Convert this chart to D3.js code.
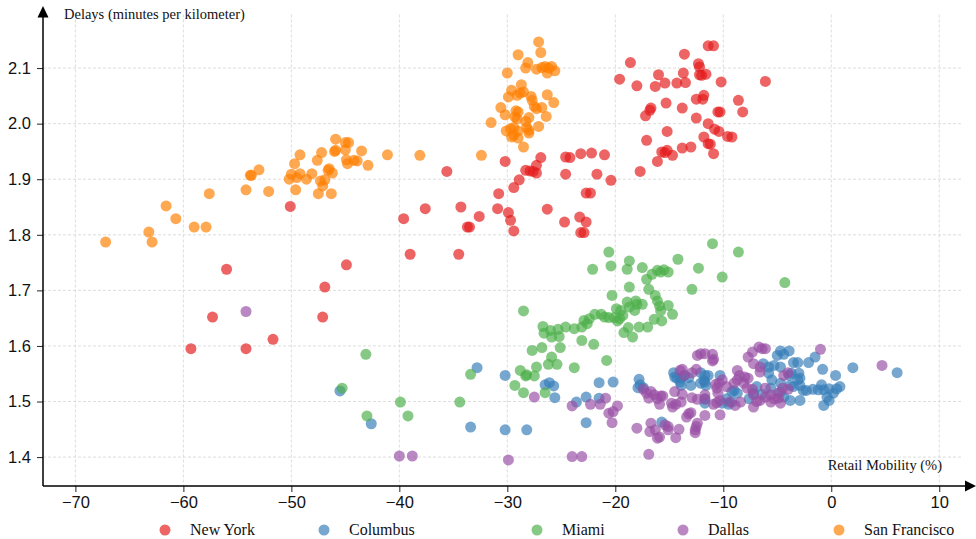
<!DOCTYPE html>
<html>
<head>
<meta charset="utf-8">
<script src="https://cdn.jsdelivr.net/npm/d3@7"></script>
<style>
  body { margin: 0; background: white; }
  svg { display: block; font-family: "Liberation Serif", "DejaVu Serif", serif; }
  .grid line { stroke: #d4d4d4; stroke-width: 0.8; stroke-dasharray: 3,2; }
  .tick text { font-size: 16.5px; fill: #111; }
</style>
</head>
<body>
<div id="chart_div"></div>
<script>
//city names (legend order = draw order)
var cities = ["New York", "Columbus", "Miami", "Dallas", "San Francisco"];

//[retail mobility %, delay minutes per km]
var newYork = [
  [-11.4,2.140],[-10.9,2.140],[-13.6,2.125],[-18.6,2.110],[-12.3,2.108],[-12.2,2.102],[-19.6,2.080],[-16.0,2.088],
  [-13.7,2.091],[-12.2,2.088],[-12.0,2.087],[-11.6,2.089],[-18.0,2.068],[-16.3,2.067],[-15.4,2.073],[-14.3,2.073],
  [-13.5,2.074],[-10.2,2.075],[-6.1,2.076],[-12.5,2.044],[-11.9,2.044],[-11.8,2.051],[-8.6,2.042],[-8.2,2.021],
  [-15.3,2.037],[-13.8,2.028],[-16.7,2.028],[-16.8,2.024],[-17.2,2.014],[-12.5,2.010],[-10.5,2.021],[-10.3,2.021],
  [-11.4,2.000],[-10.8,1.990],[-10.4,1.986],[-15.2,1.986],[-9.6,1.977],[-9.2,1.976],[-11.8,1.976],[-17.1,1.970],
  [-11.4,1.964],[-11.2,1.963],[-13.8,1.956],[-13.0,1.958],[-15.7,1.949],[-15.2,1.952],[-15.4,1.948],[-14.7,1.943],
  [-16.1,1.932],[-10.9,1.946],[-17.7,1.914],[-21.0,1.944],[-20.4,1.898],
  [-30.2,1.932],[-26.9,1.939],[-27.3,1.925],[-28.3,1.916],[-27.9,1.915],[-27.3,1.911],[-27.6,1.914],[-28.9,1.899],
  [-29.4,1.885],[-30.8,1.874],[-30.9,1.847],[-29.9,1.840],[-29.7,1.826],[-29.4,1.807],[-35.6,1.914],[-34.3,1.850],
  [-32.6,1.833],[-33.7,1.814],[-33.5,1.814],[-37.6,1.847],[-39.6,1.829],[-24.6,1.940],[-24.2,1.939],[-23.2,1.946],
  [-22.2,1.947],[-24.6,1.909],[-21.7,1.909],[-22.7,1.875],[-22.3,1.875],[-26.3,1.846],[-24.7,1.823],[-23.3,1.832],
  [-22.7,1.823],[-23.2,1.804],[-22.9,1.804],
  [-50.1,1.851],[-39.0,1.765],[-34.5,1.765],[-56.0,1.738],[-44.9,1.746],[-46.9,1.706],[-57.3,1.652],[-47.1,1.652],
  [-51.7,1.612],[-59.3,1.595],[-54.2,1.595]
];

var columbus = [
  [-45.5,1.519],[-42.6,1.460],[-32.8,1.561],[-30.2,1.547],[-33.4,1.454],[-30.2,1.449],[-28.2,1.449],[-26.5,1.530],
  [-26.1,1.534],[-25.7,1.528],[-25.6,1.507],[-23.6,1.499],[-22.7,1.508],[-21.5,1.506],[-21.5,1.534],[-22.7,1.462],
  [-20.2,1.535],[-17.8,1.540],[-17.7,1.530],[-17.9,1.525],[-17.4,1.525],[-15.7,1.463],[-14.6,1.552],[-14.3,1.542],
  [-14.0,1.535],[-14.5,1.544],[-13.6,1.547],[-13.0,1.529],[-13.2,1.543],[-12.1,1.552],[-11.7,1.547],[-11.7,1.535],
  [-11.6,1.529],[-11.4,1.547],[-11.7,1.497],[-11.7,1.505],[-10.3,1.547],[-9.7,1.505],[-9.5,1.495],[-9.2,1.499],
  [-9.2,1.518],[-8.7,1.515],[-7.6,1.505],[-7.2,1.515],[-6.9,1.527],[-6.3,1.568],[-5.8,1.562],[-5.3,1.565],
  [-5.0,1.583],[-4.7,1.591],[-4.4,1.585],[-3.9,1.591],[-3.5,1.570],[-3.1,1.570],[-5.5,1.539],[-4.7,1.533],
  [-3.9,1.547],[-3.8,1.529],[-3.5,1.527],[-3.1,1.539],[-2.9,1.529],[-2.9,1.502],[-2.3,1.520],[-1.7,1.522],
  [-1.2,1.521],[-0.7,1.521],[-0.2,1.523],[0.2,1.515],[0.5,1.523],[0.8,1.527],[0.4,1.547],[-2.1,1.570],
  [-1.5,1.580],[-0.8,1.558],[-0.4,1.508],[-0.7,1.493],[-0.2,1.502],[2.0,1.561],[6.1,1.552],[-6.4,1.513],
  [-3.8,1.502],[-5.8,1.551],[-4.7,1.562],[-3.7,1.551],[-3.0,1.551],[-2.9,1.542],[-2.6,1.520],[-0.9,1.530],
  [-4.4,1.508],[-4.7,1.517],[-5.6,1.524],[-9.0,1.520],[-10.1,1.497],[-11.8,1.538],[-12.1,1.533],[-13.9,1.542],
  [-13.9,1.529]
];

var miami = [
  [-11.0,1.784],[-8.6,1.769],[-20.6,1.769],[-20.4,1.744],[-22.1,1.738],[-18.7,1.753],[-18.9,1.738],[-17.5,1.741],
  [-14.2,1.756],[-12.3,1.740],[-10.1,1.724],[-4.3,1.714],[-16.1,1.736],[-15.8,1.733],[-15.5,1.737],[-15.1,1.733],
  [-16.6,1.729],[-17.1,1.720],[-12.9,1.702],[-18.7,1.706],[-16.9,1.702],[-20.3,1.691],[-16.3,1.691],[-16.1,1.681],
  [-15.9,1.672],[-15.8,1.663],[-15.1,1.673],[-14.7,1.657],[-16.4,1.648],[-15.7,1.645],[-17.0,1.634],[-18.9,1.679],
  [-18.1,1.681],[-18.0,1.675],[-17.5,1.675],[-18.2,1.664],[-18.7,1.670],[-19.9,1.667],[-19.5,1.664],[-19.3,1.655],
  [-19.6,1.649],[-19.8,1.645],[-20.1,1.651],[-17.8,1.634],[-18.8,1.633],[-19.2,1.624],[-18.4,1.616],[-20.6,1.651],
  [-21.0,1.652],[-21.3,1.657],[-21.9,1.657],[-22.4,1.649],[-22.9,1.646],[-22.6,1.640],[-23.1,1.634],[-23.8,1.631],
  [-24.6,1.634],[-25.3,1.630],[-25.2,1.617],[-25.9,1.616],[-26.0,1.628],[-26.7,1.635],[-26.6,1.623],[-23.1,1.610],
  [-22.0,1.603],[-20.8,1.574],[-28.5,1.663],[-25.1,1.597],[-26.8,1.597],[-27.7,1.592],[-25.9,1.580],[-25.4,1.567],
  [-26.2,1.567],[-27.3,1.562],[-28.8,1.556],[-23.8,1.561],[-28.3,1.546],[-28.2,1.548],[-27.5,1.546],[-33.4,1.549],
  [-29.3,1.529],[-28.5,1.516],[-26.5,1.516],[-43.1,1.585],[-45.3,1.524],[-39.9,1.499],[-34.4,1.499],[-43.0,1.474],
  [-39.2,1.474]
];

var dallas = [
  [-54.2,1.662],[-40.0,1.402],[-38.8,1.402],[-29.9,1.395],[-27.5,1.508],[-24.0,1.492],[-23.1,1.401],[-24.0,1.401],
  [-22.3,1.495],[-21.4,1.495],[-16.9,1.405],[-20.9,1.506],[-19.8,1.492],[-20.6,1.479],[-20.2,1.482],[-20.3,1.462],
  [-18.0,1.452],[-17.4,1.522],[-17.1,1.515],[-16.7,1.518],[-16.4,1.512],[-16.9,1.506],[-16.1,1.505],[-15.8,1.510],
  [-15.9,1.495],[-15.6,1.510],[-16.7,1.461],[-16.8,1.446],[-16.3,1.449],[-16.1,1.434],[-15.9,1.436],[-15.4,1.458],
  [-15.1,1.455],[-15.1,1.449],[-14.1,1.450],[-14.4,1.435],[-14.5,1.518],[-14.4,1.495],[-14.7,1.490],[-13.8,1.513],
  [-14.0,1.556],[-13.8,1.558],[-12.9,1.552],[-12.5,1.558],[-11.0,1.573],[-13.4,1.472],[-13.2,1.478],[-13.0,1.480],
  [-11.7,1.475],[-12.4,1.461],[-12.6,1.449],[-12.5,1.455],[-12.6,1.444],[-12.9,1.507],[-12.4,1.504],[-11.7,1.504],
  [-10.9,1.495],[-10.6,1.498],[-10.5,1.515],[-10.6,1.524],[-14.8,1.497],[-13.9,1.499],[-10.3,1.502],[-10.4,1.533],
  [-10.1,1.539],[-9.7,1.527],[-9.0,1.533],[-8.7,1.539],[-8.5,1.547],[-8.7,1.556],[-8.0,1.544],[-7.7,1.542],
  [-8.1,1.533],[-7.8,1.524],[-7.3,1.522],[-7.2,1.512],[-6.9,1.500],[-6.6,1.502],[-6.1,1.508],[-5.6,1.512],
  [-5.3,1.505],[-4.9,1.515],[-4.5,1.524],[-4.4,1.547],[-4.0,1.552],[-6.6,1.553],[-6.6,1.562],[-7.7,1.580],
  [-7.3,1.589],[-6.7,1.598],[-6.4,1.595],[-6.1,1.595],[-7.2,1.568],[-12.4,1.583],[-11.7,1.586],[-11.0,1.585],
  [-10.9,1.576],[-12.1,1.586],[-13.6,1.547],[-11.7,1.512],[-10.7,1.531],[-9.4,1.499],[-8.9,1.493],[-8.4,1.499],
  [-7.2,1.490],[-6.1,1.524],[-5.6,1.499],[-4.7,1.497],[-4.0,1.522],[-4.9,1.506],[-1.0,1.594],[4.7,1.565],
  [-10.3,1.476]
];

var sanFrancisco = [
  [-67.2,1.787],[-63.2,1.805],[-62.9,1.787],[-61.6,1.852],[-60.7,1.829],[-59.0,1.814],[-57.9,1.814],[-57.6,1.874],
  [-54.2,1.881],[-52.1,1.878],[-53.8,1.907],[-53.7,1.907],[-53.0,1.917],[-50.2,1.900],[-50.0,1.909],[-49.5,1.903],
  [-49.2,1.910],[-49.6,1.881],[-49.7,1.928],[-49.2,1.944],[-48.6,1.900],[-48.1,1.910],[-47.6,1.934],[-47.2,1.948],
  [-47.5,1.874],[-47.1,1.888],[-47.3,1.897],[-46.3,1.874],[-46.9,1.899],[-46.6,1.916],[-46.5,1.919],[-46.2,1.911],
  [-45.9,1.972],[-45.9,1.952],[-46.0,1.950],[-45.0,1.966],[-44.7,1.966],[-45.0,1.953],[-44.9,1.935],[-44.8,1.928],
  [-44.2,1.934],[-43.9,1.933],[-43.5,1.951],[-42.9,1.925],[-41.1,1.944],[-38.1,1.943],[-32.4,1.943],
  [-27.1,2.147],[-26.9,2.128],[-29.0,2.124],[-28.1,2.110],[-28.3,2.100],[-30.0,2.091],[-27.3,2.098],[-26.8,2.101],
  [-26.5,2.103],[-26.2,2.100],[-25.9,2.103],[-26.3,2.091],[-25.6,2.095],[-28.7,2.070],[-29.6,2.060],[-28.8,2.055],
  [-28.5,2.057],[-29.1,2.051],[-29.9,2.048],[-27.8,2.049],[-27.7,2.042],[-26.3,2.052],[-25.7,2.038],[-30.6,2.029],
  [-27.5,2.031],[-27.3,2.027],[-26.8,2.029],[-30.2,2.016],[-29.2,2.023],[-29.0,2.021],[-29.1,2.009],[-29.3,2.012],
  [-28.0,2.011],[-28.3,2.004],[-26.4,2.013],[-31.5,2.002],[-30.1,1.987],[-29.7,1.991],[-29.4,1.993],[-29.0,1.987],
  [-29.4,1.979],[-29.0,1.974],[-29.6,1.976],[-28.2,1.993],[-28.0,1.988],[-28.0,1.983],[-27.1,1.995],[-28.5,1.958]
];

var series = [newYork, columbus, miami, dallas, sanFrancisco];

//tick values
var xTicks = [-70, -60, -50, -40, -30, -20, -10, 0, 10];
var yTicks = [1.4, 1.5, 1.6, 1.7, 1.8, 1.9, 2.0, 2.1];

//styles
var colors = ["#e41a1c", "#377eb8", "#4daf4a", "#984ea3", "#ff7f00"];
var legendX = [165, 324, 537, 683, 839];

var width = 976;
var height = 539;

var svg = d3.select("#chart_div").append("svg")
  .attr("width", width)
  .attr("height", height);

//scales
var xScale = d3.scaleLinear().domain([-73, 12.2]).range([43, 963]);
var yScale = d3.scaleLinear().domain([1.348, 2.2]).range([486, 12.5]);

//plot edges (note: "top" is taken by window.top)
var plotLeft = xScale.range()[0];
var plotRight = xScale.range()[1];
var plotBottom = yScale.range()[0];
var plotTop = yScale.range()[1];

/*----------------------
GRID
----------------------*/
var grid = svg.append("g").attr("class", "grid");

grid.selectAll(".vgrid")
  .data(xTicks)
  .enter().append("line")
  .attr("x1", d => xScale(d))
  .attr("x2", d => xScale(d))
  .attr("y1", plotTop + 2)
  .attr("y2", plotBottom);

grid.selectAll(".hgrid")
  .data(yTicks)
  .enter().append("line")
  .attr("x1", plotLeft)
  .attr("x2", plotRight)
  .attr("y1", d => yScale(d))
  .attr("y2", d => yScale(d));

/*----------------------
POINTS
----------------------*/
series.forEach(function (pts, i) {
  svg.append("g")
    .selectAll("circle")
    .data(pts)
    .enter().append("circle")
    .attr("cx", d => xScale(d[0]))
    .attr("cy", d => yScale(d[1]))
    .attr("r", 5.5)
    .attr("fill", colors[i])
    .attr("fill-opacity", 0.68);
});

/*----------------------
AXES
----------------------*/
var fmt = d => d3.format(".1f")(d);
var fmtX = d => (d < 0 ? "\u2212" + Math.abs(d) : "" + d);

var xAxis = svg.append("g")
  .attr("transform", `translate(0,${plotBottom})`)
  .call(d3.axisBottom(xScale).tickValues(xTicks).tickFormat(fmtX).tickSize(6).tickPadding(4));
xAxis.select(".domain").remove();
xAxis.selectAll(".tick line").attr("stroke", "#222");

var yAxis = svg.append("g")
  .attr("transform", `translate(${plotLeft},0)`)
  .call(d3.axisLeft(yScale).tickValues(yTicks).tickFormat(fmt).tickSize(6).tickPadding(6));
yAxis.select(".domain").remove();
yAxis.selectAll(".tick line").attr("stroke", "#222");

//axis lines with arrows
svg.append("line")
  .attr("x1", plotLeft).attr("x2", plotRight + 2)
  .attr("y1", plotBottom).attr("y2", plotBottom)
  .attr("stroke", "black").attr("stroke-width", 1.5);
svg.append("path")
  .attr("d", `M${plotRight + 2},${plotBottom - 5.5} L${plotRight + 13},${plotBottom} L${plotRight + 2},${plotBottom + 5.5} Z`)
  .attr("fill", "black");

svg.append("line")
  .attr("x1", plotLeft).attr("x2", plotLeft)
  .attr("y1", plotBottom).attr("y2", plotTop + 4)
  .attr("stroke", "black").attr("stroke-width", 1.5);
svg.append("path")
  .attr("d", `M${plotLeft - 5.5},${plotTop + 5} L${plotLeft},${plotTop - 6.5} L${plotLeft + 5.5},${plotTop + 5} Z`)
  .attr("fill", "black");

//axis titles
svg.append("text")
  .attr("x", 64).attr("y", 19)
  .style("font-size", "14.5px").style("fill", "#111")
  .text("Delays (minutes per kilometer)");

svg.append("text")
  .attr("x", 942).attr("y", 470)
  .attr("text-anchor", "end")
  .style("font-size", "14.5px").style("fill", "#111")
  .text("Retail Mobility (%)");

/*----------------------
LEGEND
----------------------*/
var legend = svg.append("g").attr("transform", "translate(0,530)");

cities.forEach(function (name, i) {
  legend.append("circle")
    .attr("cx", legendX[i]).attr("cy", 0)
    .attr("r", 5.5)
    .attr("fill", colors[i]).attr("fill-opacity", 0.68);
  legend.append("text")
    .attr("x", legendX[i] + 25).attr("y", 0)
    .attr("dy", "0.33em")
    .style("font-size", "16px").style("fill", "#111")
    .text(name);
});
</script>
</body>
</html>
